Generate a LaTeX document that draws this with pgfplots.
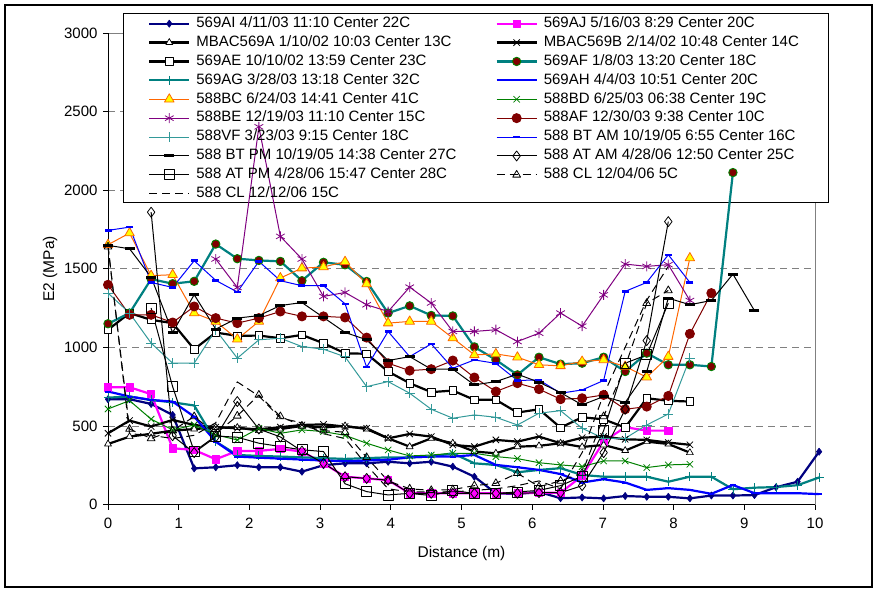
\documentclass[border=0pt]{standalone}
\usepackage{pgfplots}
\pgfplotsset{compat=1.18}
\usepackage{fontspec}
\setmainfont{Liberation Sans}
\definecolor{navy}{RGB}{0,0,128}
\definecolor{mag}{RGB}{255,0,255}
\definecolor{tealc}{RGB}{0,128,128}
\definecolor{tealv}{RGB}{51,153,153}
\definecolor{blu}{RGB}{0,0,255}
\definecolor{orng}{RGB}{255,102,0}
\definecolor{yel}{RGB}{255,255,0}
\definecolor{grn}{RGB}{0,128,0}
\definecolor{purp}{RGB}{128,0,128}
\definecolor{dred}{RGB}{128,0,0}
\definecolor{gridg}{RGB}{128,128,128}
\begin{document}
\begin{tikzpicture}[x=1pt,y=1pt]
\path[use as bounding box] (0,0) rectangle (877,-591);
\draw[line width=2pt] (5,-5) rectangle (872,-587);
\begin{axis}[
  at={(108pt,-504.5pt)}, anchor=south west,
  scale only axis, width=707pt, height=471.5pt,
  xmin=0, xmax=10, ymin=0, ymax=3000,
  clip=false,
  xtick={0,1,...,10}, ytick={0,500,...,3000},
  tick pos=left, tick align=outside, major tick length=5pt,
  tick style={black, line width=0.8pt},
  axis line style={draw=gridg, line width=0.8pt},
  ymajorgrids, grid style={gridg, line width=0.8pt, dash pattern=on 7pt off 5pt},
  /pgf/number format/assume math mode=true,
  /pgf/number format/1000 sep={},
  ticklabel style={font=\fontsize{15}{18}\selectfont},
  xticklabel style={yshift=-5pt},
  yticklabel style={xshift=-2pt},
  xlabel={Distance (m)}, ylabel={E2 (MPa)},
  every axis x label/.style={at={(axis description cs:0.5,-0.103)}, anchor=center, font=\fontsize{15.5}{18}\selectfont},
  every axis y label/.style={at={(axis description cs:-0.082,0.5)}, rotate=90, anchor=center, font=\fontsize{15.5}{18}\selectfont},
  legend columns=2,
  legend cell align=left,
  legend style={at={(axis description cs:0.0212,1.0424)}, anchor=north west,
    draw=none, fill=none,
    font=\fontsize{15}{18}\selectfont,
    inner xsep=25pt, inner ysep=1pt, row sep=0pt,
    nodes={text height=11pt, text depth=3.5pt, inner ysep=2.2pt},
    /tikz/every odd column/.style={column sep=4pt},
    /tikz/column 2/.style={column sep=37pt}},
  legend image code/.code={\draw[mark repeat=2,mark phase=2,#1] plot coordinates {(0pt,0pt) (20pt,0pt) (40pt,0pt)};},
  every axis plot/.append style={line join=round},
]
% legend box drawn beneath the series, as in the original
\filldraw[fill=white, draw=black, line width=0.8pt] (rel axis cs:0.02122,0.64157) rectangle (rel axis cs:1.01839,1.04242);
% 1 569AI
\addplot[navy, line width=2.2pt, mark=diamond*, mark size=3.6pt, mark options={solid, fill=navy, line width=0.6pt}] coordinates {
(0,670)(0.305,670)(0.610,640)(0.914,570)(1.219,230)(1.524,237)(1.829,250)(2.134,237)(2.438,237)(2.743,209)(3.048,250)(3.353,262)(3.658,262)(3.962,272)(4.267,262)(4.572,272)(4.877,241)(5.182,177)(5.486,71)(5.791,67)(6.096,80)(6.401,40)(6.706,45)(7.010,39)(7.315,54)(7.620,49)(7.925,49)(8.230,39)(8.534,57)(8.839,57)(9.144,60)(9.449,110)(9.754,145)(10.058,336)};
\addlegendentry{569AI 4/11/03 11:10 Center 22C}
% 2 569AJ
\addplot[mag, line width=2.2pt, mark=square*, mark size=3.6pt, mark options={solid, fill=mag, line width=0.6pt}] coordinates {
(0,746)(0.305,746)(0.610,702)(0.914,358)(1.219,347)(1.524,288)(1.829,341)(2.134,341)(2.438,354)(2.743,337)(3.048,262)(3.353,177)(3.658,166)(3.962,155)(4.267,71)(4.572,71)(4.877,71)(5.182,71)(5.486,71)(5.791,71)(6.096,75)(6.401,75)(6.706,182)(7.010,400)(7.315,492)(7.620,470)(7.925,470)};
\addlegendentry{569AJ 5/16/03 8:29 Center 20C}
% 3 MBAC569A
\addplot[black, line width=2.2pt, mark=triangle*, mark size=4pt, mark options={solid, fill=white, line width=0.7pt}] coordinates {
(0,385)(0.305,432)(0.610,450)(0.914,470)(1.219,480)(1.524,490)(1.829,490)(2.134,470)(2.438,480)(2.743,500)(3.048,490)(3.353,500)(3.658,480)(3.962,421)(4.267,368)(4.572,421)(4.877,390)(5.182,337)(5.486,326)(5.791,368)(6.096,373)(6.401,390)(6.706,366)(7.010,379)(7.315,343)(7.620,400)(7.925,385)(8.230,330)};
\addlegendentry{MBAC569A 1/10/02 10:03 Center 13C}
% 4 MBAC569B
\addplot[black, line width=2.2pt, mark=x, mark size=4.5pt, mark options={solid, line width=0.8pt}] coordinates {
(0,453)(0.305,534)(0.610,496)(0.914,538)(1.219,506)(1.524,492)(1.829,485)(2.134,479)(2.438,492)(2.743,506)(3.048,510)(3.353,496)(3.658,485)(3.962,421)(4.267,449)(4.572,432)(4.877,379)(5.182,368)(5.486,411)(5.791,400)(6.096,432)(6.401,390)(6.706,425)(7.010,432)(7.315,415)(7.620,411)(7.925,394)(8.230,380)};
\addlegendentry{MBAC569B 2/14/02 10:48 Center 14C}
% 5 569AE
\addplot[black, line width=2.2pt, mark=square*, mark size=3.8pt, mark options={solid, fill=white, line width=0.7pt}] coordinates {
(0,1112)(0.305,1218)(0.610,1175)(0.914,1154)(1.219,988)(1.524,1094)(1.829,1073)(2.134,1075)(2.438,1058)(2.743,1079)(3.048,1026)(3.353,962)(3.658,959)(3.962,846)(4.267,772)(4.572,715)(4.877,725)(5.182,666)(5.486,666)(5.791,585)(6.096,606)(6.401,489)(6.706,555)(7.010,542)(7.315,490)(7.620,676)(7.925,660)(8.230,655)};
\addlegendentry{569AE 10/10/02 13:59 Center 23C}
% 6 569AF
\addplot[tealc, line width=2.2pt, mark=*, mark size=4.2pt, mark options={solid, fill=dred, draw=grn, line width=0.9pt}] coordinates {
(0,1150)(0.305,1218)(0.610,1434)(0.914,1405)(1.219,1420)(1.524,1657)(1.829,1564)(2.134,1553)(2.438,1547)(2.743,1424)(3.048,1541)(3.353,1525)(3.658,1419)(3.962,1218)(4.267,1264)(4.572,1203)(4.877,1200)(5.182,1003)(5.486,920)(5.791,825)(6.096,937)(6.401,893)(6.706,899)(7.010,937)(7.315,846)(7.620,963)(7.925,889)(8.230,889)(8.534,878)(8.839,2112)};
\addlegendentry{569AF 1/8/03 13:20 Center 18C}
% 7 569AG
\addplot[tealc, line width=2.2pt, mark=+, mark size=4.5pt, mark options={solid, line width=0.8pt}] coordinates {
(0,680)(0.305,687)(0.610,665)(0.914,650)(1.219,630)(1.524,400)(1.829,315)(2.134,309)(2.438,305)(2.743,300)(3.048,295)(3.353,290)(3.658,295)(3.962,300)(4.267,300)(4.572,305)(4.877,326)(5.182,262)(5.486,252)(5.791,205)(6.096,220)(6.401,231)(6.706,188)(7.010,177)(7.315,177)(7.620,177)(7.925,145)(8.230,177)(8.534,177)(8.839,97)(9.144,107)(9.449,111)(9.754,123)(10.058,172)};
\addlegendentry{569AG 3/28/03 13:18 Center 32C}
% 8 569AH
\addplot[blu, line width=2.2pt, mark=-, mark size=3pt, mark options={solid, line width=2pt}] coordinates {
(0,719)(0.305,687)(0.610,665)(0.914,655)(1.219,559)(1.524,400)(1.829,305)(2.134,298)(2.438,292)(2.743,286)(3.048,280)(3.353,275)(3.658,280)(3.962,285)(4.267,300)(4.572,305)(4.877,305)(5.182,315)(5.486,252)(5.791,237)(6.096,220)(6.401,194)(6.706,140)(7.010,161)(7.315,140)(7.620,93)(7.925,104)(8.230,93)(8.534,68)(8.839,124)(9.144,72)(9.449,72)(9.754,72)(10.058,66)};
\addlegendentry{569AH 4/4/03 10:51 Center 20C}
% 9 588BC
\addplot[orng, line width=1pt, mark=triangle*, mark size=5.5pt, mark options={solid, fill=yel, draw=orng, line width=0.8pt}] coordinates {
(0,1653)(0.305,1727)(0.610,1456)(0.914,1462)(1.219,1218)(1.524,1165)(1.829,1052)(2.134,1165)(2.438,1441)(2.743,1504)(3.048,1511)(3.353,1545)(3.658,1403)(3.962,1154)(4.267,1165)(4.572,1165)(4.877,1059)(5.182,952)(5.486,958)(5.791,937)(6.096,889)(6.401,882)(6.706,910)(7.010,920)(7.315,878)(7.620,810)(7.925,941)(8.230,1568)};
\addlegendentry{588BC 6/24/03 14:41 Center 41C}
% 10 588BD
\addplot[grn, line width=1pt, mark=x, mark size=4.5pt, mark options={solid, line width=0.8pt}] coordinates {
(0,608)(0.305,661)(0.610,543)(0.914,475)(1.219,506)(1.524,443)(1.829,411)(2.134,485)(2.438,453)(2.743,475)(3.048,464)(3.353,440)(3.658,390)(3.962,347)(4.267,309)(4.572,315)(4.877,326)(5.182,326)(5.486,305)(5.791,292)(6.096,266)(6.401,252)(6.706,241)(7.010,277)(7.315,277)(7.620,235)(7.925,252)(8.230,256)};
\addlegendentry{588BD 6/25/03 06:38 Center 19C}
% 11 588BE
\addplot[purp, line width=1pt, mark=asterisk, mark size=5pt, mark options={solid, line width=0.8pt}] coordinates {
(1.524,1562)(1.829,1381)(2.134,2403)(2.438,1706)(2.743,1562)(3.048,1324)(3.353,1349)(3.658,1271)(3.962,1228)(4.267,1383)(4.572,1282)(4.877,1101)(5.182,1101)(5.486,1112)(5.791,1037)(6.096,1090)(6.401,1218)(6.706,1135)(7.010,1334)(7.315,1530)(7.620,1515)(7.925,1526)(8.230,1298)};
\addlegendentry{588BE 12/19/03 11:10 Center 15C}
% 12 588AF
\addplot[dred, line width=1pt, mark=*, mark size=4.5pt, mark options={solid, fill=dred, draw=dred}] coordinates {
(0,1398)(0.305,1207)(0.610,1207)(0.914,1158)(1.219,1260)(1.524,1186)(1.829,1154)(2.134,1186)(2.438,1228)(2.743,1197)(3.048,1197)(3.353,1190)(3.658,1062)(3.962,899)(4.267,852)(4.572,861)(4.877,916)(5.182,808)(5.486,719)(5.791,772)(6.096,734)(6.401,670)(6.706,676)(7.010,697)(7.315,606)(7.620,623)(7.925,691)(8.230,1086)(8.534,1345)};
\addlegendentry{588AF 12/30/03 9:38 Center 10C}
% 13 588VF
\addplot[tealv, line width=1pt, mark=+, mark size=5pt, mark options={solid, line width=0.8pt}] coordinates {
(0,1345)(0.305,1218)(0.610,1027)(0.914,899)(1.219,899)(1.524,1111)(1.829,931)(2.134,1048)(2.438,1058)(2.743,1005)(3.048,988)(3.353,940)(3.658,750)(3.962,782)(4.267,708)(4.572,606)(4.877,549)(5.182,570)(5.486,555)(5.791,506)(6.096,581)(6.401,597)(6.706,485)(7.010,421)(7.315,421)(7.620,506)(7.925,576)(8.230,931)};
\addlegendentry{588VF 3/23/03 9:15 Center 18C}
% 14 588 BT AM
\addplot[blu, line width=1pt, mark=-, mark size=3.5pt, mark options={solid, line width=2.5pt}] coordinates {
(0,1744)(0.305,1765)(0.610,1413)(0.914,1381)(1.219,1551)(1.524,1426)(1.829,1352)(2.134,1547)(2.438,1424)(2.743,1392)(3.048,1392)(3.353,1277)(3.658,874)(3.962,1101)(4.267,941)(4.572,1022)(4.877,867)(5.182,920)(5.486,898)(5.791,789)(6.096,793)(6.401,708)(6.706,729)(7.010,789)(7.315,1356)(7.620,1413)(7.925,1589)(8.230,1413)};
\addlegendentry{588 BT AM 10/19/05 6:55 Center 16C}
% 15 588 BT PM
\addplot[black, line width=1pt, mark=-, mark size=5pt, mark options={solid, line width=3pt}] coordinates {
(0,1649)(0.305,1627)(0.610,1447)(0.914,1094)(1.219,1335)(1.524,1116)(1.829,1186)(2.134,1202)(2.438,1266)(2.743,1285)(3.048,1190)(3.353,1095)(3.658,1048)(3.962,916)(4.267,941)(4.572,861)(4.877,861)(5.182,761)(5.486,782)(5.791,829)(6.096,778)(6.401,712)(6.706,634)(7.010,687)(7.315,649)(7.620,846)(7.925,1313)(8.230,1271)(8.534,1298)(8.839,1466)(9.144,1233)};
\addlegendentry{588 BT PM 10/19/05 14:38 Center 27C}
% 16 588 AT AM
\addplot[black, line width=1pt, mark=diamond, mark size=5pt, mark options={solid, line width=0.8pt}] coordinates {
(0.610,1860)(0.914,437)(1.219,330)(1.524,430)(1.829,655)(2.134,480)(2.438,430)(2.743,340)(3.048,262)(3.353,177)(3.658,166)(3.962,155)(4.267,71)(4.572,71)(4.877,71)(5.182,71)(5.486,71)(5.791,71)(6.096,75)(6.401,75)(6.706,120)(7.010,330)(7.315,606)(7.620,1043)(7.925,1800)};
\addlegendentry{588 AT AM 4/28/06 12:50 Center 25C}
% 17 588 AT PM
\addplot[black, line width=1pt, mark=square, mark size=5pt, mark options={solid, line width=0.8pt}] coordinates {
(0.610,1250)(0.914,750)(1.219,337)(1.524,436)(1.829,428)(2.134,390)(2.438,369)(2.743,348)(3.048,337)(3.353,132)(3.658,82)(3.962,61)(4.267,71)(4.572,57)(4.877,90)(5.182,70)(5.486,70)(5.791,80)(6.096,90)(6.401,120)(6.706,180)(7.010,470)(7.315,899)(7.620,952)(7.925,1281)};
\addlegendentry{588 AT PM 4/28/06 15:47 Center 28C}
% 18 588 CL 12/04/06
\addplot[black, line width=1pt, dash pattern=on 8pt off 5pt, mark=triangle, mark size=4.5pt, mark options={solid, line width=0.8pt}] coordinates {
(0,1640)(0.305,480)(0.610,420)(0.914,470)(1.219,560)(1.524,450)(1.829,564)(2.134,697)(2.438,560)(2.743,500)(3.048,470)(3.353,460)(3.658,300)(3.962,150)(4.267,100)(4.572,90)(4.877,95)(5.182,120)(5.486,135)(5.791,199)(6.096,113)(6.401,150)(6.706,200)(7.010,560)(7.315,878)(7.620,1281)(7.925,1362)};
\addlegendentry{588 CL 12/04/06 5C}
% 19 588 CL 12/12/06
\addplot[black, line width=1pt, dash pattern=on 8pt off 5pt] coordinates {
(0,1650)(0.305,450)(0.610,440)(0.914,420)(1.219,440)(1.524,520)(1.829,780)(2.134,690)(2.438,550)(2.743,520)(3.048,450)(3.353,420)(3.658,250)(3.962,100)(4.267,80)(4.572,80)(4.877,80)(5.182,90)(5.486,100)(5.791,120)(6.096,150)(6.401,100)(6.706,330)(7.010,700)(7.315,1000)(7.620,1300)(7.925,1515)};
\addlegendentry{588 CL 12/12/06 15C}
\draw[black, line width=0.8pt] (rel axis cs:0,0) -- (rel axis cs:0,1);
\draw[black, line width=0.8pt] (rel axis cs:0,0) -- (rel axis cs:1,0);
\end{axis}
\end{tikzpicture}
\end{document}
